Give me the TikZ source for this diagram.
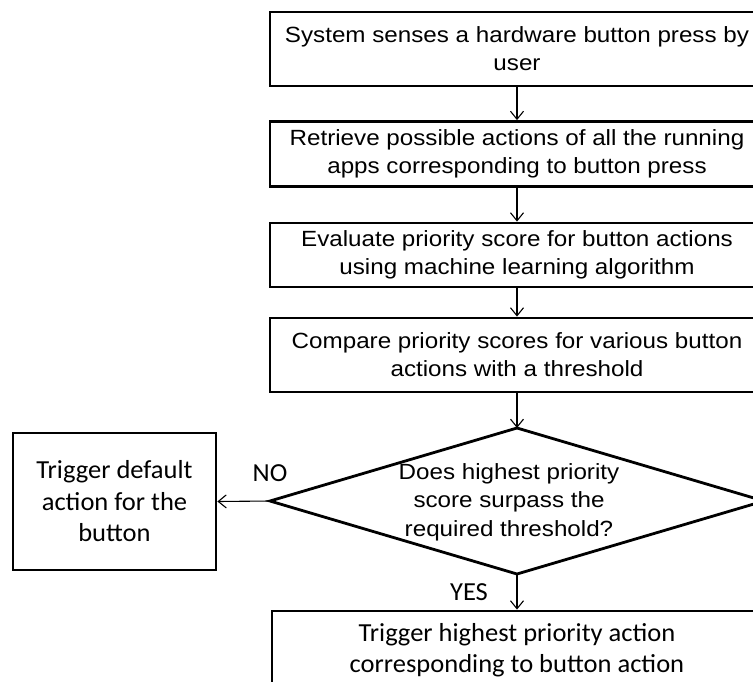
\documentclass[tikz,border=0pt]{standalone}
\usepackage{fontspec}
\setmainfont{Liberation Sans}
\newfontfamily\arialw[FakeStretch=1.10]{Liberation Sans}
\newfontfamily\calib[FakeStretch=1.02]{Carlito}
\usetikzlibrary{arrows.meta}
\begin{document}
\begin{tikzpicture}[x=1pt,y=-1pt,
  box/.style={draw, line width=2.8pt, rectangle, inner sep=0pt, align=center,
    font=\arialw\fontsize{22}{28}\selectfont},
  cbox/.style={draw, line width=2.8pt, rectangle, inner sep=0pt, align=center,
    font=\calib\fontsize{26}{31.5}\selectfont},
  dtext/.style={inner sep=0pt, align=center,
    font=\arialw\fontsize{22}{28.5}\selectfont},
  decline/.style={draw, line width=2.8pt, line join=miter},
  lbl/.style={inner sep=0pt, font=\calib\fontsize{26}{30}\selectfont},
  arr/.style={line width=1.1pt, -{Straight Barb[length=8pt,width=13pt,line width=1.1pt]}}]
\useasboundingbox (0,0) rectangle (753,681);
\clip (0,0) rectangle (753,681);
\fill[white] (0,0) rectangle (753,681);

\node[box, minimum width=494pt, minimum height=74pt] (b1) at (517,49)
  {System senses a hardware button press by\\user};
\node[box, minimum width=494pt, minimum height=65pt] (b2) at (517,154)
  {Retrieve possible actions of all the running\\apps corresponding to button press};
\node[box, minimum width=494pt, minimum height=64pt] (b3) at (517,255)
  {Evaluate priority score for button actions\\using machine learning algorithm};
\node[box, minimum width=494pt, minimum height=74pt] (b4) at (517,355)
  {Compare priority scores for various button\\actions with a threshold};

% decision diamond
\coordinate (dt) at (517,428);
\coordinate (db) at (517,574);
\coordinate (dl) at (270,501);
\coordinate (dr) at (764,501);
\draw[decline] (dt) -- (dr) -- (db) -- (dl) -- cycle;
\node[dtext] (d) at (509,502) {Does highest priority\\score surpass the\\required threshold?};

\node[cbox, minimum width=203pt, minimum height=137pt] (def) at (114.5,501.5)
  {Trigger default\\action for the\\button};
\node[cbox, minimum width=490pt, minimum height=78pt] (fin) at (517,650)
  {Trigger highest priority action\\corresponding to button action};

\node[lbl] (no) at (270,473) {NO};
\node[lbl] (yes) at (469,592) {YES};

\draw[arr] (b1) -- (b2);
\draw[arr] (b2) -- (b3);
\draw[arr] (b3) -- (b4);
\draw[arr] (b4) -- (dt);
\draw[arr] (dl) -- (def.east);
\draw[arr] (db) -- (fin);
\end{tikzpicture}
\end{document}
